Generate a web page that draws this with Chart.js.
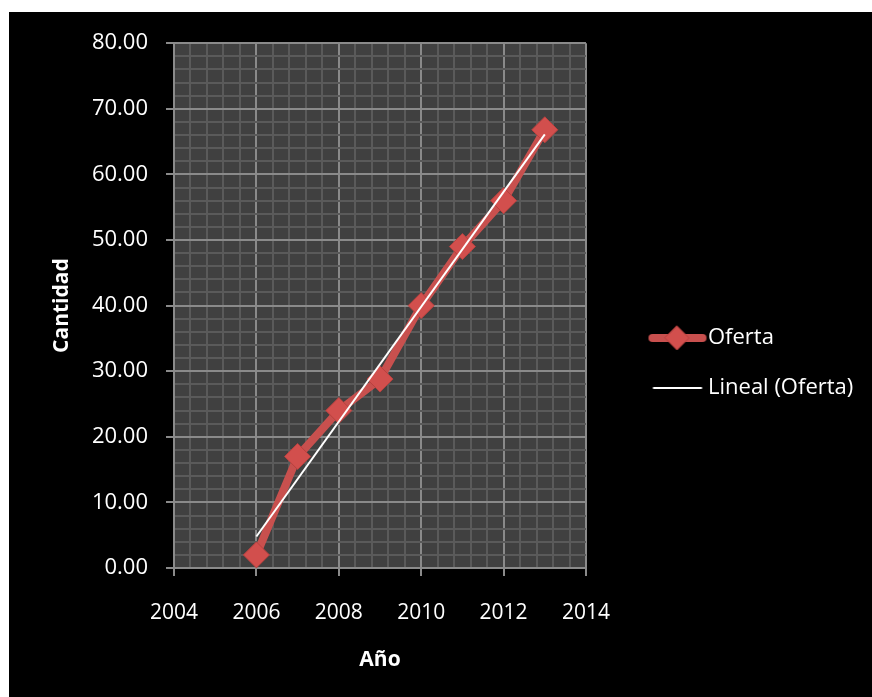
<!DOCTYPE html>
<html>
<head>
<meta charset="utf-8">
<script src="https://cdn.jsdelivr.net/npm/chart.js@4/dist/chart.umd.min.js"></script>
<style>
  html, body { margin: 0; padding: 0; background: #fff; }
  .wrap { position: absolute; left: 9px; top: 12px; width: 863px; height: 685px; background: #000; }
</style>
</head>
<body>
<div class="wrap"><canvas id="myChart"></canvas></div>
<script>
// values
const years = [2006, 2007, 2008, 2009, 2010, 2011, 2012, 2013];
const oferta = [2, 17, 24, 28.8, 40, 49, 56, 66.8];
const trendYears = [2006, 2013];
const trendValues = [4.8, 66.1];
const seriesNames = ['Oferta', 'Lineal (Oferta)'];

const red = '#C8504E';
const majorGrid = '#8a8a8a';
const minorGrid = '#5a5a5a';
const font = 'Open Sans';

// little pictures for the legend: line with marker, and the plain white line
function legendIcon(kind) {
    const c = document.createElement('canvas');
    c.width = 112;
    c.height = 28;
    const g = c.getContext('2d');
    if (kind === 'oferta') {
        g.strokeStyle = red;
        g.lineWidth = 8;
        g.lineCap = 'round';
        g.beginPath(); g.moveTo(53, 14); g.lineTo(103, 14); g.stroke();
        g.fillStyle = '#D24F4D';
        g.strokeStyle = '#B9413F';
        g.lineWidth = 1;
        g.beginPath();
        g.moveTo(77.5, 2); g.lineTo(89.5, 14); g.lineTo(77.5, 26); g.lineTo(65.5, 14); g.closePath();
        g.fill(); g.stroke();
    } else {
        g.strokeStyle = '#fff';
        g.lineWidth = 2;
        g.beginPath(); g.moveTo(53.5, 14); g.lineTo(102.5, 14); g.stroke();
    }
    return c;
}
const icons = [legendIcon('oferta'), legendIcon('trend')];

const isMajorX = v => Math.abs(v - Math.round(v)) < 1e-6 && Math.round(v) % 2 === 0;
const isMajorY = v => Math.abs(v % 10) < 1e-6;

const plotBg = {
    id: 'plotBg',
    beforeDraw(chart) {
        const a = chart.chartArea;
        chart.ctx.save();
        chart.ctx.fillStyle = '#404040';
        chart.ctx.fillRect(a.left, a.top, a.right - a.left, a.bottom - a.top);
        chart.ctx.restore();
    }
};

// keep the legend column a fixed width and nudge it up a bit
const legendFix = {
    id: 'legendFix',
    beforeLayout(chart) {
        const lg = chart.legend;
        if (lg && !lg._patched) {
            const fit = lg.fit;
            lg.fit = function () { fit.call(this); this.width = 286; };
            lg._patched = true;
        }
    },
    afterLayout(chart) {
        chart.legend.top -= 6;
        chart.legend.bottom -= 6;
    }
};

const ctx = document.getElementById('myChart').getContext('2d');
const myChart = new Chart(ctx, {
    type: 'line',
    data: {
        datasets: [{
            label: seriesNames[0],
            data: years.map((x, i) => ({x: x, y: oferta[i]})),
            borderColor: red,
            borderWidth: 8,
            borderJoinStyle: 'round',
            borderCapStyle: 'round',
            pointStyle: 'rectRot',
            pointRadius: 13,
            pointBackgroundColor: '#D24F4D',
            pointBorderColor: '#B9413F',
            pointBorderWidth: 1,
            fill: false,
            order: 1
        }, {
            label: seriesNames[1],
            data: trendYears.map((x, i) => ({x: x, y: trendValues[i]})),
            borderColor: '#fff',
            borderWidth: 2,
            pointRadius: 0,
            fill: false,
            order: 0
        }]
    },
    options: {
        responsive: true,
        maintainAspectRatio: false,
        animation: false,
        layout: { padding: { top: 29, left: 0, right: 0, bottom: 0 } },
        plugins: {
            tooltip: { enabled: false },
            legend: {
                position: 'right',
                labels: {
                    color: '#fff',
                    font: { family: font, size: 22 },
                    padding: 28,
                    usePointStyle: true,
                    pointStyleWidth: 83,
                    generateLabels: (chart) => {
                        const items = Chart.defaults.plugins.legend.labels.generateLabels(chart);
                        items.forEach(it => { it.pointStyle = icons[it.datasetIndex]; it.fontColor = '#fff'; });
                        return items;
                    },
                    sort: (a, b) => a.datasetIndex - b.datasetIndex
                }
            }
        },
        scales: {
            x: {
                type: 'linear',
                min: 2004,
                max: 2014,
                afterFit: s => { s.height = 129; },
                border: { color: majorGrid, width: 2 },
                grid: {
                    color: c => (c.tick && isMajorX(c.tick.value)) ? majorGrid : minorGrid,
                    lineWidth: 2,
                    tickLength: 8,
                    tickColor: c => (c.tick && isMajorX(c.tick.value)) ? majorGrid : 'transparent',
                    tickWidth: 2
                },
                ticks: {
                    stepSize: 0.4,
                    autoSkip: false,
                    maxRotation: 0,
                    padding: 24,
                    color: '#fff',
                    font: { family: font, size: 21 },
                    callback: v => isMajorX(v) ? String(Math.round(v)) : ''
                },
                title: {
                    display: true,
                    text: 'Año',
                    color: '#fff',
                    font: { family: font, size: 21, weight: 'bold' },
                    padding: { top: 0, bottom: 24 }
                }
            },
            y: {
                min: 0,
                max: 80,
                afterFit: s => { s.width = 165; },
                border: { color: majorGrid, width: 2 },
                grid: {
                    color: c => (c.tick && isMajorY(c.tick.value)) ? majorGrid : minorGrid,
                    lineWidth: 2,
                    tickLength: 8,
                    tickColor: c => (c.tick && isMajorY(c.tick.value)) ? majorGrid : 'transparent',
                    tickWidth: 2
                },
                ticks: {
                    stepSize: 2,
                    autoSkip: false,
                    padding: 18,
                    color: '#fff',
                    font: { family: font, size: 22 },
                    callback: v => isMajorY(v) ? v.toFixed(2) : ''
                },
                title: {
                    display: true,
                    text: 'Cantidad',
                    color: '#fff',
                    font: { family: font, size: 21, weight: 'bold' },
                    padding: { top: 40, bottom: 0 }
                }
            }
        }
    },
    plugins: [plotBg, legendFix]
});
</script>
</body>
</html>
